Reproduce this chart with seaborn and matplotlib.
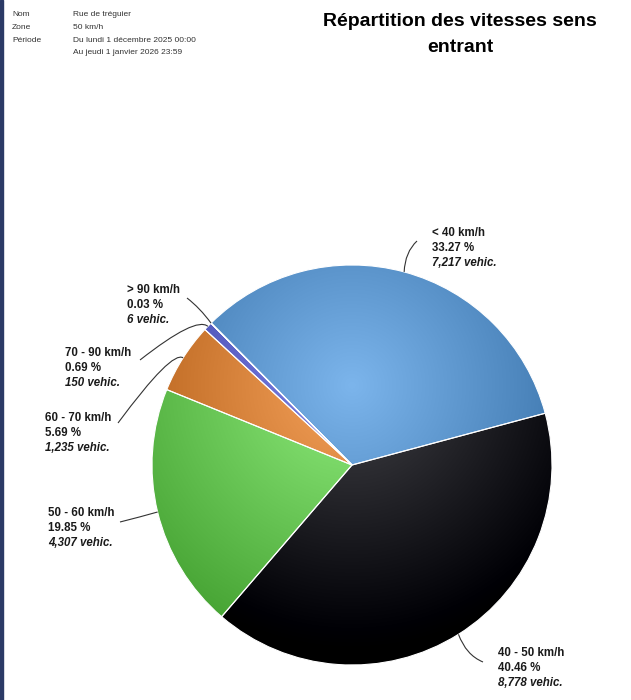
import numpy as np
import matplotlib
matplotlib.use("Agg")
import matplotlib.pyplot as plt
import seaborn as sns
from matplotlib.patches import Rectangle, PathPatch
from matplotlib.path import Path
import matplotlib.colors as mcolors

# ---------------- data ----------------
categories = ["< 40 km/h", "> 90 km/h", "70 - 90 km/h", "60 - 70 km/h", "50 - 60 km/h", "40 - 50 km/h"]
percents = [33.27, 0.03, 0.69, 5.69, 19.85, 40.46]
vehicles = [7217, 6, 150, 1235, 4307, 8778]
colors = ["#7cb5ec", "#f15c80", "#8085e9", "#f7a35c", "#90ed7d", "#434348"]

header_keys = ["Nom", "Zone", "Période", ""]
header_vals = ["Rue de tréguier", "50 km/h", "Du lundi 1 décembre 2025 00:00",
               "Au jeudi 1 janvier 2026 23:59"]
title_lines = ["Répartition des vitesses sens", "entrant"]

# ---------------- layout ----------------
W, H = 631, 700
sns.set_theme(style="white")
plt.rcParams['font.family'] = ['Liberation Sans', 'DejaVu Sans']

fig = plt.figure(figsize=(W / 100, H / 100), dpi=100)
ax = fig.add_axes([0, 0, 1, 1])


def Y(yp):
    return H - yp


cx, cy, R = 352, Y(465), 200
wedges, _ = ax.pie(vehicles, colors=colors, startangle=15, counterclock=True,
                   center=(cx, cy), radius=R,
                   wedgeprops=dict(edgecolor="white", linewidth=0.8))

# radial gradient (Highcharts-like): base colour at centre, darker outward
gx, gy, gr = cx, Y(385), 280.0
N = 420
xs = np.linspace(cx - R, cx + R, N)
ys = np.linspace(cy - R, cy + R, N)
XX, YY = np.meshgrid(xs, ys)
T = np.clip(np.hypot(XX - gx, YY - gy) / gr, 0, 1)[..., None]
for w, c in zip(wedges, colors):
    base = np.array(mcolors.to_rgb(c))
    img = np.clip(base[None, None, :] - T * (76 / 255.0), 0, 1)
    im = ax.imshow(img, extent=(cx - R, cx + R, cy - R, cy + R), origin="lower",
                   interpolation="bilinear", zorder=1.5)
    im.set_clip_path(w)
    w.set_facecolor("none")
    w.set_zorder(3)

# labels
label_xy = [(432, 233), (127, 290), (65, 353), (45, 418), (48, 513), (498, 653)]
conn_ctrl = [(405, 252), (200, 308), (196, 316), (172, 350), (140, 517), (466, 655)]
conn_end = [(417, 241), (187, 298), (140, 360), (118, 423), (120, 522), (483, 662)]

for w, cat, p, v, (lx, ly), (qx, qy), (ex, ey) in zip(
        wedges, categories, percents, vehicles, label_xy, conn_ctrl, conn_end):
    mid = np.deg2rad((w.theta1 + w.theta2) / 2)
    sx, sy = cx + R * np.cos(mid), cy + R * np.sin(mid)
    path = Path([(sx, sy), (qx, Y(qy)), (ex, Y(ey))],
                [Path.MOVETO, Path.CURVE3, Path.CURVE3])
    ax.add_patch(PathPatch(path, facecolor="none", edgecolor="#333333", lw=0.8, zorder=4))
    lines = [cat, f"{p:.2f} %", f"{v:,} vehic."]
    for i, s in enumerate(lines):
        ax.text(lx, Y(ly + 15 * i), s, ha="left", va="center", fontsize=8.3,
                fontweight="bold", style="italic" if i == 2 else "normal",
                color="#1a1a1a", zorder=5)

# header
for i, (k, val) in enumerate(zip(header_keys, header_vals)):
    yy = Y(15 + 12.5 * i)
    ax.text(12, yy, k, ha="left", va="center", fontsize=6, color="#333333")
    ax.text(73, yy, val, ha="left", va="center", fontsize=6, color="#333333")

# title
for i, s in enumerate(title_lines):
    ax.text(460, Y(22 + 25 * i), s, ha="center", va="center", fontsize=14,
            fontweight="bold", color="#000000")

# left border
fig.add_artist(Rectangle((0, 0), 3 / W, 1, transform=fig.transFigure,
                         color="#2b3a66", zorder=10))

ax.set_xlim(0, W)
ax.set_ylim(0, H)
ax.set_aspect("auto")
ax.axis("off")

fig.savefig("out.png", dpi=100, facecolor="white")
